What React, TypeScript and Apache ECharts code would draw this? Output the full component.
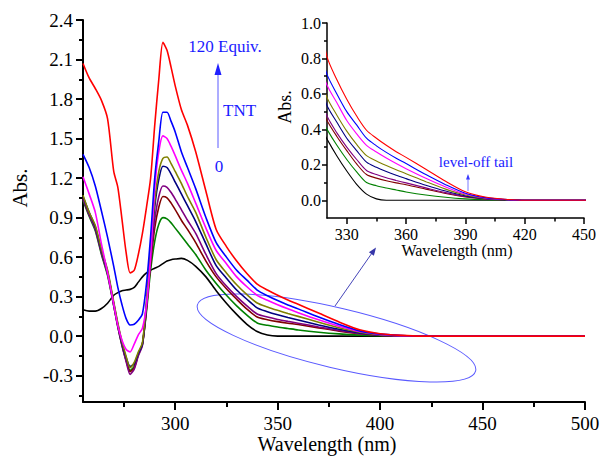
import React, { useEffect, useRef } from 'react';
import * as echarts from 'echarts';

const wavelengths = [255, 258, 261, 264, 267, 270, 272, 274, 276, 278, 280, 282, 284, 286, 288, 290, 292, 294, 296, 298, 300, 303, 306, 310, 315, 320, 325, 330, 335, 340, 345, 350, 355, 360, 370, 380, 390, 400, 410, 420, 440, 460, 480, 500];

const absBlack = [0.20, 0.19, 0.19, 0.21, 0.25, 0.31, 0.33, 0.345, 0.35, 0.355, 0.37, 0.41, 0.45, 0.48, 0.50, 0.515, 0.53, 0.55, 0.57, 0.58, 0.585, 0.59, 0.575, 0.53, 0.45, 0.345, 0.25, 0.165, 0.09, 0.035, 0.008, 0, 0, 0, 0, 0, 0, 0, 0, 0, 0, 0, 0, 0];
const absGreen = [1.03, 0.91, 0.80, 0.62, 0.46, 0.23, 0.07, -0.07, -0.18, -0.26, -0.23, -0.14, -0.06, 0.19, 0.50, 0.72, 0.85, 0.90, 0.89, 0.86, 0.82, 0.76, 0.70, 0.62, 0.50, 0.40, 0.31, 0.23, 0.16, 0.10, 0.082, 0.069, 0.058, 0.047, 0.03, 0.017, 0.008, 0.003, 0.001, 0, 0, 0, 0, 0];
const absDarkRed = [1.05, 0.93, 0.82, 0.64, 0.48, 0.24, 0.08, -0.06, -0.18, -0.27, -0.24, -0.14, -0.06, 0.21, 0.55, 0.82, 0.98, 1.06, 1.05, 1.01, 0.96, 0.88, 0.81, 0.71, 0.57, 0.45, 0.36, 0.28, 0.205, 0.145, 0.125, 0.11, 0.098, 0.088, 0.063, 0.038, 0.019, 0.008, 0.003, 0, 0, 0, 0, 0];
const absPurple = [1.04, 0.92, 0.81, 0.63, 0.47, 0.23, 0.07, -0.07, -0.19, -0.29, -0.25, -0.15, -0.07, 0.22, 0.58, 0.88, 1.06, 1.14, 1.13, 1.09, 1.04, 0.96, 0.88, 0.78, 0.62, 0.475, 0.38, 0.30, 0.23, 0.168, 0.145, 0.127, 0.112, 0.098, 0.07, 0.043, 0.021, 0.008, 0.003, 0, 0, 0, 0, 0];
const absNavy = [1.06, 0.94, 0.83, 0.65, 0.49, 0.25, 0.09, -0.05, -0.16, -0.23, -0.21, -0.13, -0.06, 0.25, 0.63, 0.98, 1.19, 1.29, 1.28, 1.23, 1.17, 1.08, 0.99, 0.87, 0.70, 0.535, 0.44, 0.35, 0.28, 0.215, 0.186, 0.162, 0.141, 0.122, 0.085, 0.052, 0.025, 0.01, 0.003, 0, 0, 0, 0, 0];
const absOlive = [1.07, 0.94, 0.84, 0.66, 0.50, 0.26, 0.10, -0.04, -0.15, -0.24, -0.20, -0.12, -0.05, 0.27, 0.66, 1.02, 1.25, 1.35, 1.36, 1.31, 1.25, 1.16, 1.06, 0.94, 0.75, 0.58, 0.48, 0.39, 0.315, 0.252, 0.222, 0.196, 0.172, 0.15, 0.105, 0.063, 0.03, 0.011, 0.004, 0, 0, 0, 0, 0];
const absMagenta = [1.21, 1.08, 0.94, 0.70, 0.48, 0.24, 0.08, -0.03, -0.10, -0.12, -0.06, 0.01, 0.06, 0.24, 0.60, 1.12, 1.40, 1.52, 1.50, 1.44, 1.37, 1.26, 1.16, 1.01, 0.82, 0.65, 0.55, 0.45, 0.375, 0.31, 0.272, 0.238, 0.207, 0.178, 0.124, 0.075, 0.035, 0.013, 0.004, 0, 0, 0, 0, 0];
const absBlue = [1.38, 1.28, 1.14, 0.95, 0.75, 0.53, 0.37, 0.24, 0.135, 0.085, 0.09, 0.12, 0.17, 0.40, 0.76, 1.20, 1.48, 1.70, 1.70, 1.63, 1.55, 1.40, 1.28, 1.12, 0.90, 0.71, 0.60, 0.50, 0.425, 0.35, 0.307, 0.27, 0.237, 0.207, 0.145, 0.088, 0.04, 0.015, 0.005, 0, 0, 0, 0, 0];
const absRed = [2.07, 1.96, 1.88, 1.79, 1.65, 1.25, 1.13, 0.89, 0.64, 0.48, 0.50, 0.62, 0.78, 0.98, 1.20, 1.60, 1.95, 2.23, 2.17, 2.04, 1.90, 1.72, 1.60, 1.40, 1.10, 0.81, 0.68, 0.57, 0.475, 0.395, 0.35, 0.31, 0.274, 0.242, 0.175, 0.107, 0.048, 0.018, 0.006, 0, 0, 0, 0, 0];

const spectra = [absBlack, absGreen, absDarkRed, absPurple, absNavy, absOlive, absMagenta, absBlue, absRed];
const spectrumNames = ['black', 'green', 'dark red', 'purple', 'navy', 'olive', 'magenta', 'blue', 'red'];
const spectrumColors = ['#000000', '#008000', '#800000', '#800080', '#000080', '#808000', '#ff00ff', '#0000ff', '#ff0000'];

const mainXLabels = [300, 350, 400, 450, 500];
const mainXMinor = [275, 325, 375, 425, 475];
const mainYLabels = [-0.3, 0, 0.3, 0.6, 0.9, 1.2, 1.5, 1.8, 2.1, 2.4];
const mainYMinor = [-0.45, -0.15, 0.15, 0.45, 0.75, 1.05, 1.35, 1.65, 1.95, 2.25];
const insetXLabels = [330, 360, 390, 420, 450];
const insetXMinor = [345, 375, 405, 435];
const insetYLabels = [0, 0.2, 0.4, 0.6, 0.8, 1.0];
const insetYMinor = [0.1, 0.3, 0.5, 0.7, 0.9];

const FONT = "'Times New Roman', 'Liberation Serif', Tinos, 'DejaVu Serif', serif";
const TEXT_BLUE = '#1a1aff';

function makeAxis(kind: 'x' | 'y', gridIndex: number, min: number, max: number, values: number[], major: boolean, tickLen: number, fontSize: number, lineWidth: number, digits: number, margin: number) {
  return {
    type: 'value',
    gridIndex,
    min,
    max,
    position: kind === 'x' ? 'bottom' : 'left',
    axisLine: { show: major, onZero: false, lineStyle: { color: '#000', width: lineWidth } },
    axisTick: { show: true, inside: false, customValues: values, length: tickLen, lineStyle: { color: '#000', width: lineWidth } },
    axisLabel: major
      ? { show: true, customValues: values, formatter: (v: number) => v.toFixed(digits), color: '#000', fontFamily: FONT, fontSize, margin }
      : { show: false },
    splitLine: { show: false },
    minorTick: { show: false },
  };
}

function txt(x: number, y: number, text: string, size: number, fill: string, align = 'center', rotation = 0) {
  return {
    type: 'text', x, y, rotation,
    style: { text, fontFamily: FONT, fontSize: size, fill, align, verticalAlign: 'middle', textAlign: align, textVerticalAlign: 'middle' },
  };
}

export default function App() {
  const ref = useRef<HTMLDivElement>(null);
  useEffect(() => {
    if (!ref.current) return;
    const chart = echarts.init(ref.current, undefined, { renderer: 'svg' });

    const mainSeries = spectra.map((vals, i) => ({
      type: 'line',
      name: spectrumNames[i],
      xAxisIndex: 0,
      yAxisIndex: 0,
      data: wavelengths.map((w, j) => [w, vals[j]]),
      showSymbol: false,
      smooth: 0.25,
      lineStyle: { color: spectrumColors[i], width: 1.6 },
      itemStyle: { color: spectrumColors[i] },
      clip: true,
    }));
    const insetSeries = spectra.map((vals, i) => ({
      type: 'line',
      name: spectrumNames[i] + ' inset',
      xAxisIndex: 2,
      yAxisIndex: 2,
      data: wavelengths.map((w, j) => [w, vals[j]]),
      showSymbol: false,
      smooth: 0.3,
      lineStyle: { color: spectrumColors[i], width: 1.1 },
      itemStyle: { color: spectrumColors[i] },
      clip: true,
    }));

    const option = {
      animation: false,
      backgroundColor: '#ffffff',
      textStyle: { fontFamily: FONT },
      grid: [
        { left: 83, top: 20, width: 502, height: 382, containLabel: false, outerBoundsMode: 'none' },
        { left: 327, top: 23, width: 257, height: 195, containLabel: false, outerBoundsMode: 'none' },
      ],
      xAxis: [
        makeAxis('x', 0, 255, 500, mainXLabels, true, 8, 19, 2, 0, 12),
        makeAxis('x', 0, 255, 500, mainXMinor, false, 5, 19, 2, 0, 12),
        makeAxis('x', 1, 320, 450, insetXLabels, true, 6, 16, 1.5, 0, 8),
        makeAxis('x', 1, 320, 450, insetXMinor, false, 3.5, 16, 1.5, 0, 8),
      ],
      yAxis: [
        makeAxis('y', 0, -0.5, 2.4, mainYLabels, true, 7, 19, 2, 1, 10),
        makeAxis('y', 0, -0.5, 2.4, mainYMinor, false, 4, 19, 2, 1, 10),
        makeAxis('y', 1, -0.1, 1.0, insetYLabels, true, 5, 16, 1.5, 1, 6),
        makeAxis('y', 1, -0.1, 1.0, insetYMinor, false, 3, 16, 1.5, 1, 6),
      ],
      series: [...mainSeries, ...insetSeries],
      graphic: [
        txt(327, 444, 'Wavelength (nm)', 20, '#000'),
        txt(20, 188, 'Abs.', 21, '#000', 'center', Math.PI / 2),
        txt(457, 250, 'Wavelength (nm)', 16, '#000'),
        txt(285, 107, 'Abs.', 18, '#000', 'center', Math.PI / 2),
        txt(225, 46, '120 Equiv.', 17, TEXT_BLUE),
        txt(223, 110, 'TNT', 17, TEXT_BLUE, 'left'),
        txt(219, 166, '0', 17, TEXT_BLUE),
        txt(476, 162, 'level-off tail', 15, TEXT_BLUE),
        // vertical TNT arrow
        { type: 'line', shape: { x1: 218, y1: 148, x2: 218, y2: 72 }, style: { stroke: '#5b5bff', lineWidth: 1 } },
        { type: 'polygon', shape: { points: [[218, 63], [214.5, 75], [221.5, 75]] }, style: { fill: '#2020ff' } },
        // small inset arrow
        { type: 'line', shape: { x1: 468, y1: 191, x2: 468, y2: 178 }, style: { stroke: '#7a7aff', lineWidth: 1 } },
        { type: 'polygon', shape: { points: [[468, 174], [466, 179.5], [470, 179.5]] }, style: { fill: '#3a3aff' } },
        // ellipse
        { type: 'ellipse', x: 336.5, y: 338, rotation: -0.232, shape: { cx: 0, cy: 0, rx: 143, ry: 30 }, style: { fill: 'none', stroke: '#5a5aff', lineWidth: 1 } },
        // diagonal arrow
        { type: 'line', shape: { x1: 335, y1: 306, x2: 372, y2: 253 }, style: { stroke: '#4545b8', lineWidth: 1 } },
        { type: 'polygon', shape: { points: [[376, 247.5], [373.9, 255.8], [368.9, 252.3]] }, style: { fill: '#3535a8' } },
      ],
    };
    chart.setOption(option as any);
    return () => chart.dispose();
  }, []);
  return <div ref={ref} style={{ position: 'fixed', left: 0, top: 0, width: 600, height: 462 }} />;
}
